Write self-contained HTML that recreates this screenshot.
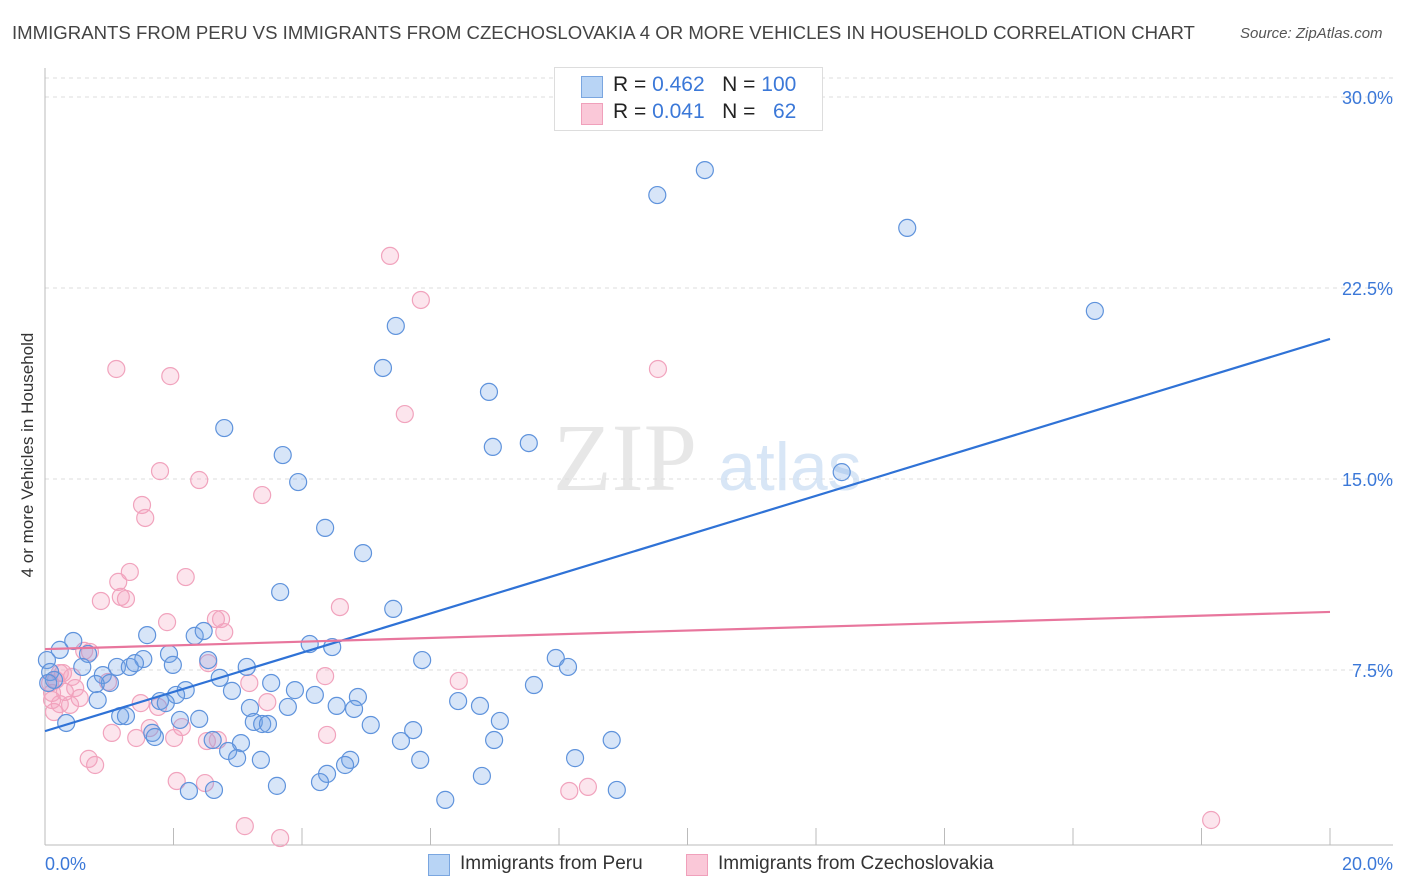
<!DOCTYPE html>
<html><head><meta charset="utf-8"><style>
body{margin:0;background:#fff;font-family:"Liberation Sans",sans-serif;}
#wrap{position:relative;width:1406px;height:892px;overflow:hidden;}
.t{position:absolute;white-space:nowrap;}
</style></head><body>
<div id="wrap">
<div class="t" style="left:12px;top:22px;font-size:18.6px;color:#444;">IMMIGRANTS FROM PERU VS IMMIGRANTS FROM CZECHOSLOVAKIA 4 OR MORE VEHICLES IN HOUSEHOLD CORRELATION CHART</div>
<div class="t" style="left:1240px;top:25px;font-size:15px;color:#555;font-style:italic;">Source: ZipAtlas.com</div>
<svg id="svg" width="1406" height="892" style="position:absolute;left:0;top:0;"></svg>
<div class="t" style="left:28px;top:455px;font-size:17px;color:#333;transform:translate(-50%,-50%) rotate(-90deg);">4 or more Vehicles in Household</div>
<div style="position:absolute;left:554px;top:67px;width:267px;height:62px;border:1px solid #ddd;background:#fff;font-size:21px;color:#222;">
 <div style="position:absolute;left:26px;top:8px;width:20px;height:20px;background:#b8d4f5;border:1px solid #7aa6e0;"></div>
 <div class="t" style="left:58px;top:5px;">R = <span style="color:#3b78d8">0.462</span>&nbsp;&nbsp; N = <span style="color:#3b78d8">100</span></div>
 <div style="position:absolute;left:26px;top:35px;width:20px;height:20px;background:#fac8d8;border:1px solid #f0a0bb;"></div>
 <div class="t" style="left:58px;top:32px;">R = <span style="color:#3b78d8">0.041</span>&nbsp;&nbsp; N = &nbsp;&nbsp;<span style="color:#3b78d8">62</span></div>
</div>
<div style="position:absolute;left:428px;top:853px;font-size:19px;color:#333;">
 <div style="position:absolute;left:0;top:1px;width:20px;height:20px;background:#b8d4f5;border:1px solid #7aa6e0;"></div>
 <div class="t" style="left:32px;top:0;">Immigrants from Peru</div></div>
<div style="position:absolute;left:686px;top:853px;font-size:19px;color:#333;">
 <div style="position:absolute;left:0;top:1px;width:20px;height:20px;background:#fac8d8;border:1px solid #f0a0bb;"></div>
 <div class="t" style="left:32px;top:0;">Immigrants from Czechoslovakia</div></div>
</div>
<script>
const yTicks=[7.5,15,22.5,30];
const yTickLabels=["7.5%","15.0%","22.5%","30.0%"];
const xTickVals=[0,2,4,6,8,10,12,14,16,18,20];
const blueX=[10.27,9.53,13.42,16.34,5.46,5.26,6.91,2.79,7.53,6.97,12.40,3.70,3.94,4.36,4.95,3.66,5.42,1.59,2.33,2.47,4.12,4.47,0.44,0.23,0.67,1.93,1.53,2.54,5.87,7.95,8.14,0.03,0.08,0.58,1.12,1.32,1.40,1.99,3.14,0.90,1.01,2.72,0.79,0.14,0.05,2.91,2.19,2.04,3.52,3.89,4.20,4.87,7.61,1.79,1.88,6.43,6.77,0.82,3.78,3.19,4.54,4.81,1.17,1.26,2.10,2.40,0.33,3.25,3.38,3.47,5.07,7.08,5.73,1.67,1.71,2.61,3.05,5.54,6.99,8.82,2.85,2.99,3.36,4.75,4.67,5.84,8.25,4.39,4.28,6.80,3.61,2.24,2.63,8.90,6.23];
const blueY=[27.13,26.15,24.86,21.60,21.01,19.36,18.42,17.00,16.41,16.26,15.27,15.94,14.88,13.08,12.09,10.56,9.90,8.87,8.84,9.03,8.52,8.40,8.64,8.29,8.13,8.13,7.93,7.89,7.89,7.97,7.62,7.89,7.42,7.62,7.62,7.62,7.77,7.70,7.62,7.30,6.99,7.19,6.95,7.11,6.99,6.68,6.71,6.52,6.99,6.71,6.52,6.44,6.91,6.28,6.20,6.28,6.09,6.32,6.05,6.01,6.09,5.97,5.69,5.69,5.54,5.58,5.42,5.46,5.38,5.38,5.34,5.50,5.14,5.03,4.87,4.75,4.63,4.71,4.75,4.75,4.32,4.04,3.97,3.97,3.77,3.97,4.04,3.42,3.10,3.34,2.95,2.75,2.79,2.79,2.40];
const pinkX=[5.37,5.85,1.11,1.95,9.54,5.60,1.79,2.40,3.38,1.51,1.56,1.32,2.19,1.14,1.18,1.26,0.87,4.59,1.90,2.66,2.74,2.79,0.61,0.70,2.54,0.28,0.42,0.98,0.08,0.47,0.17,0.11,4.36,6.44,3.18,0.54,0.39,0.23,0.14,0.11,1.49,1.76,3.46,1.63,2.13,1.04,1.42,2.01,2.52,2.69,4.39,0.68,0.78,2.05,2.49,8.16,8.45,3.11,3.66,18.15,0.23,0.31];
const pinkY=[23.76,22.03,19.32,19.04,19.32,17.55,15.31,14.96,14.37,13.98,13.47,11.35,11.15,10.96,10.37,10.29,10.21,9.97,9.38,9.50,9.50,8.99,8.25,8.21,7.77,7.38,7.23,7.03,6.99,6.79,7.11,6.60,7.26,7.07,6.99,6.40,6.13,6.16,5.85,6.32,6.20,6.05,6.24,5.22,5.26,5.03,4.83,4.83,4.71,4.75,4.95,4.01,3.77,3.14,3.06,2.75,2.91,1.37,0.90,1.61,7.38,6.64];
const blueTrend=[5.10,20.50];
const pinkTrend=[8.32,9.78];
const X0=45,X1=1330,YB=861,YPX=191/7.5;
const sx=v=>X0+(X1-X0)*v/20, sy=v=>YB-v*YPX;
const svg=document.getElementById('svg');const NS='http://www.w3.org/2000/svg';
function mk(t,a){const e=document.createElementNS(NS,t);for(const k in a)e.setAttribute(k,a[k]);svg.appendChild(e);return e;}
yTicks.forEach((v,i)=>{const l=mk('line',{x1:45,x2:1393,y1:sy(v),y2:sy(v),stroke:'#ddd','stroke-dasharray':'4,4'});


const t=mk('text',{x:1393,y:sy(v)+7,'text-anchor':'end','font-size':18,fill:'#3b78d8','font-family':'Liberation Sans'});t.textContent=yTickLabels[i];

});
const topGrid=mk('line',{x1:45,x2:1393,y1:78,y2:78,stroke:'#ddd','stroke-dasharray':'4,4'});


const ax=mk('line',{x1:45,x2:1393,y1:845,y2:845,stroke:'#bbb'});


const ay=mk('line',{x1:45,x2:45,y1:68,y2:845,stroke:'#bbb'});


xTickVals.forEach(v=>{const l=mk('line',{x1:sx(v),x2:sx(v),y1:828,y2:845,stroke:'#bbb'});

});
[[0,'0.0%','start',45],[20,'20.0%','end',1393]].forEach(d=>{const t=mk('text',{x:d[3],y:870,'text-anchor':d[2],'font-size':18,fill:'#3b78d8','font-family':'Liberation Sans'});t.textContent=d[1];

});
const w1=mk('text',{x:553,y:490,'font-size':96,fill:'#ddd','font-family':'Liberation Serif','opacity':0.7});w1.textContent='ZIP';


const w2=mk('text',{x:718,y:490,'font-size':68,fill:'#c8dcf3','font-family':'Liberation Sans','opacity':0.7});w2.textContent='atlas';


pinkX.forEach((x,i)=>{const c=mk('circle',{cx:sx(x),cy:sy(pinkY[i]),r:8.5,fill:'rgba(245,160,190,0.28)',stroke:'#f1a3bd','stroke-width':1.2});

});
blueX.forEach((x,i)=>{const c=mk('circle',{cx:sx(x),cy:sy(blueY[i]),r:8.5,fill:'rgba(110,160,230,0.28)',stroke:'#5f93dc','stroke-width':1.2});

});
const bt=mk('line',{x1:sx(0),y1:sy(blueTrend[0]),x2:sx(20),y2:sy(blueTrend[1]),stroke:'#2f72d6','stroke-width':2.2});


const pt=mk('line',{x1:sx(0),y1:sy(pinkTrend[0]),x2:sx(20),y2:sy(pinkTrend[1]),stroke:'#e8769d','stroke-width':2.2});


</script>
</body></html>
